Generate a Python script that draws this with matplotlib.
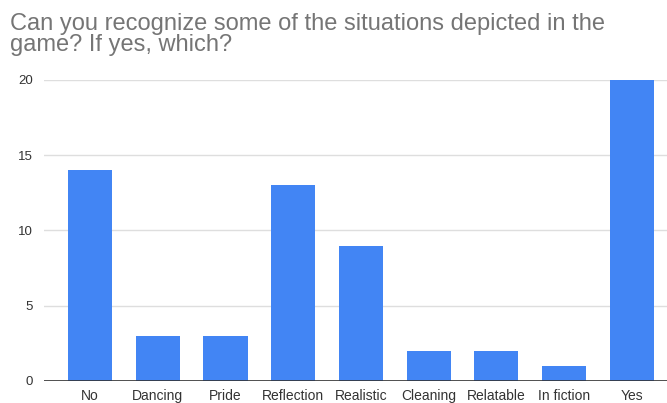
import matplotlib.pyplot as plt

plt.rcParams['font.family'] = ['Liberation Sans', 'DejaVu Sans']

# survey answers and counts
answers = ['No', 'Dancing', 'Pride', 'Reflection', 'Realistic', 'Cleaning',
           'Relatable', 'In fiction', 'Yes']
counts = [14, 3, 3, 13, 9, 2, 2, 1, 20]
yticks = [0, 5, 10, 15, 20]

fig = plt.figure(figsize=(6.67, 4.03), dpi=100)
ax = fig.add_axes([0.066, 0.0546, 0.934, 0.747])

x = range(len(answers))
ax.bar(x, counts, width=0.65, color='#4285f4', zorder=3)

ax.set_xlim(-0.68, 8.52)
ax.set_ylim(0, 20)
ax.set_yticks(yticks)
ax.set_xticks(list(x))
ax.set_xticklabels(answers)

ax.grid(axis='y', color='#dedede', linewidth=1, zorder=0)
ax.axhline(0, color='#333333', linewidth=1.2, zorder=4)
for s in ax.spines.values():
    s.set_visible(False)
ax.tick_params(axis='both', length=0, labelsize=10, colors='#333333')
ax.tick_params(axis='y', labelsize=9.5, pad=8)
ax.tick_params(axis='x', pad=6)

fig.text(0.015, 0.968, 'Can you recognize some of the situations depicted in the\ngame? If yes, which?',
         ha='left', va='top', fontsize=17, color='#757575', linespacing=0.95)

fig.savefig('out.png', dpi=100)
